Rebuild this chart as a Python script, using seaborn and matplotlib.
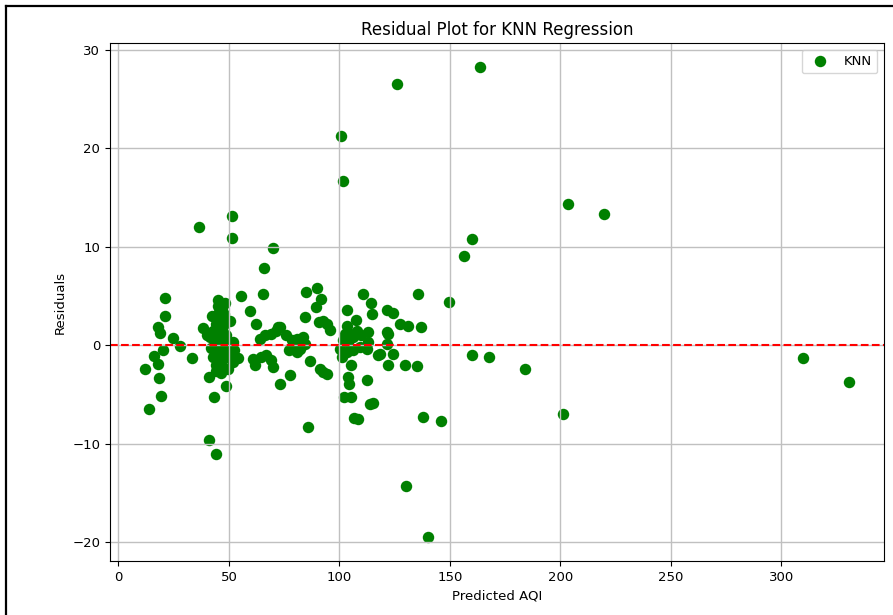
import matplotlib
matplotlib.use("Agg")
import matplotlib.pyplot as plt
import seaborn as sns
from matplotlib.lines import Line2D

# predicted AQI vs residual
predicted_aqi = [
    # low AQI group
    20.9, 20.9, 17.8, 18.6, 24.6, 27.7, 20.1, 16.3, 17.8, 12.1, 33.4, 18.3, 19.3, 13.7,
    36.4, 38.2, 40.1, 41.0, 41.0, 44.0, 48.5, 43.1, 45.0, 48.1, 50.6, 41.3, 47.3, 44.3,
    51.5, 51.5, 54.1, 51.8,
    # dense blob around 45
    42.5, 44.0, 43.0, 45.5, 46.5, 47.5, 45.0, 48.5, 43.5, 46.0, 49.0, 42.0, 44.5, 47.0,
    50.0, 52.0, 43.0, 45.5, 48.0, 50.5, 44.0, 46.5, 49.5, 47.0, 45.0, 48.0, 46.0, 52.5,
    # 55 - 96
    55.3, 65.5, 59.4, 62.1, 60.9, 61.7, 64.7, 66.9, 69.2, 70.0, 63.9, 66.2, 69.2, 72.3,
    71.5, 73.0, 76.0, 77.0, 80.6, 80.6, 73.0, 77.6, 65.8, 70.0, 85.1, 90.0, 91.5, 89.6,
    84.4, 90.8, 92.7, 94.5, 95.7, 78.4, 82.1, 83.6, 84.4, 79.0, 82.1, 86.6, 91.2, 92.7,
    94.2, 85.8,
    # around 100 - 150
    100.2, 102.5, 103.3, 104.8, 104.0, 103.3, 106.3, 109.3, 113.0, 113.0, 112.3, 117.6,
    103.5, 107.5, 107.8, 110.8, 114.3, 114.6, 105.1, 104.0, 104.5, 112.3, 102.0, 105.1,
    113.8, 115.3, 106.6, 108.5, 121.4, 122.1, 122.1, 121.4, 124.4, 127.4, 131.2, 136.8,
    121.7, 124.1, 118.4, 129.7, 135.0, 135.8, 149.4, 137.7, 145.8, 100.7, 101.7, 126.1,
    130.2, 140.1, 101.5, 106.0, 110.0, 101.0,
    # high AQI
    163.7, 203.6, 219.8, 160.0, 156.5, 160.0, 167.6, 184.0, 201.0, 310.0, 330.6,
]
residuals = [
    4.8, 3.0, 1.9, 1.25, 0.74, -0.07, -0.44, -1.1, -1.9, -2.4, -1.25, -3.3, -5.1, -6.5,
    12.0, 1.8, 1.0, -3.2, -9.6, -11.0, -4.1, -5.2, 4.6, 4.3, 2.5, 0.84, -2.2, -2.0,
    13.1, 10.9, -1.25, -1.7,
    3.0, 2.2, 1.5, 3.4, 2.8, 2.0, 1.2, 1.0, 0.5, 0.3, 0.2, -0.3, -0.5, -0.6,
    -0.4, 0.3, -1.2, -1.4, -1.3, -1.0, -2.6, -2.8, -2.4, 3.8, 4.0, 3.2, 1.8, -0.5,
    5.0, 5.2, 3.45, 2.2, -1.35, -2.0, -1.2, -1.0, -1.5, -2.2, 0.68, 1.0, 1.2, 1.86,
    1.5, 1.86, 1.0, -0.5, -0.7, 0.68, -3.9, -3.0, 7.9, 9.9, 5.4, 5.85, 4.7, 3.9,
    2.9, 2.4, 2.5, 2.2, 1.6, 0.5, 0.5, 0.84, 0.17, -0.34, -0.34, -1.6, -2.4, -2.7,
    -2.9, -8.3,
    -0.34, 1.18, 1.93, 1.18, 0.34, -0.68, -0.5, -0.17, 1.35, 0.34, -0.34, -1.0,
    3.6, 2.6, 1.5, 5.2, 4.3, 3.2, -2.0, -3.2, -3.9, -3.5, -5.2, -5.2,
    -6.0, -5.85, -7.4, -7.5, 3.55, 1.18, -2.0, 0.17, 3.3, 2.2, 2.0, 1.86,
    1.35, -0.84, -0.9, -2.0, -2.1, 5.2, 4.4, -7.3, -7.7, 21.2, 16.7, 26.5,
    -14.3, -19.5, 0.5, 0.8, 1.0, -1.2,
    28.3, 14.3, 13.3, 10.75, 9.06, -0.95, -1.2, -2.4, -7.0, -1.3, -3.7,
]
series_name = "KNN"

fig = plt.figure(figsize=(8.93, 6.15), dpi=100)
ax = fig.add_axes([110 / 893, 1 - 561 / 615, 774 / 893, 518 / 615])

sns.scatterplot(x=predicted_aqi, y=residuals, color="green", s=68, linewidth=0,
                label=series_name, ax=ax)
ax.axhline(0, color="red", linestyle="--", linewidth=1.5)

ax.set_title("Residual Plot for KNN Regression", fontsize=12)
ax.set_xlabel("Predicted AQI", fontsize=9.5)
ax.set_ylabel("Residuals", fontsize=9.5)
ax.tick_params(labelsize=9.5)
ax.grid(True, color="#c0c0c0", linewidth=1.0)
ax.legend(loc="upper right", fontsize=9.5)

# black screenshot frame on the top and left edges
fig.add_artist(Line2D([6 / 893, 6 / 893], [0, 1 - 6 / 615], color="black", lw=1.6,
                      transform=fig.transFigure))
fig.add_artist(Line2D([6 / 893, 1], [1 - 6 / 615, 1 - 6 / 615], color="black", lw=1.6,
                      transform=fig.transFigure))

fig.savefig("out.png", dpi=100)
